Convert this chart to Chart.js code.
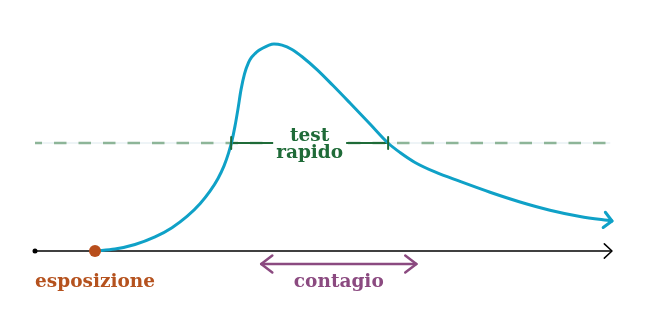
<!DOCTYPE html>
<html>
<head>
<meta charset="utf-8">
<script src="https://cdn.jsdelivr.net/npm/chart.js@4"></script>
<style>
  html, body { margin: 0; padding: 0; background: #fff; }
  #wrap { width: 650px; height: 320px; }
</style>
</head>
<body>
<div id="wrap"><canvas id="grafico"></canvas></div>
<script>
// tempo (0-100) e carica virale (0-100); soglia del test rapido a 50
const tempo  = [10.40, 13.86, 17.33, 20.80, 23.74, 26.34, 28.60, 30.33, 31.72, 32.76, 33.54, 34.14, 34.66, 35.18, 35.70, 36.31, 37.00, 37.52, 38.13, 38.82, 39.51, 40.38, 41.42, 42.81, 44.54, 46.45, 48.87, 51.65, 54.59, 58.06, 61.18, 63.26, 65.86, 69.32, 73.66, 78.86, 84.06, 89.25, 94.45, 100];
const carica = [0, 0.9, 3.0, 6.5, 10.8, 16.0, 21.9, 27.7, 33.6, 39.4, 45.3, 51.1, 57.8, 65.8, 74.6, 82.0, 87.2, 89.6, 91.4, 92.9, 94.0, 95.1, 95.8, 95.3, 93.3, 89.6, 84.0, 76.6, 68.5, 58.8, 50.0, 45.6, 41.0, 36.6, 32.2, 27.2, 22.7, 18.9, 16.0, 13.9];
const soglia = 50;
const esposizione = 10.4;
const finestraTest = [34.0, 61.2];
const finestraContagio = [39.2, 66.1];
const asseTempo = [0, 100];
const lineaSoglia = [0, 99.7];

const etichettaEsposizione = 'esposizione';
const etichettaTest = ['test', 'rapido'];
const etichettaContagio = 'contagio';

const FONT = 'bold 18.5px "DejaVu Serif"';

// disegna una punta di freccia aperta
function punta(ctx, x, y, ang, len, apertura) {
  ctx.beginPath();
  ctx.moveTo(x - len * Math.cos(ang - apertura), y - len * Math.sin(ang - apertura));
  ctx.lineTo(x, y);
  ctx.lineTo(x - len * Math.cos(ang + apertura), y - len * Math.sin(ang + apertura));
  ctx.stroke();
}

const annotazioni = {
  id: 'annotazioni',
  afterDatasetsDraw(chart) {
    const ctx = chart.ctx;
    const x = chart.scales.x, y = chart.scales.y;
    ctx.save();
    ctx.lineCap = 'round';
    ctx.lineJoin = 'round';

    // freccia dell'asse del tempo
    ctx.strokeStyle = '#000';
    ctx.lineWidth = 1.5;
    punta(ctx, x.getPixelForValue(asseTempo[1]), y.getPixelForValue(0), 0, 10.5, 0.75);

    // freccia alla fine della curva
    const n = tempo.length;
    const x1 = x.getPixelForValue(tempo[n - 2]), y1 = y.getPixelForValue(carica[n - 2]);
    const x2 = x.getPixelForValue(tempo[n - 1]), y2 = y.getPixelForValue(carica[n - 1]);
    ctx.strokeStyle = '#0fa1c7';
    ctx.lineWidth = 3;
    punta(ctx, x2, y2, Math.atan2(y2 - y1, x2 - x1), 11, 0.78);

    // finestra del test rapido: tacche e etichetta
    const ys = y.getPixelForValue(soglia);
    ctx.strokeStyle = '#1f6b38';
    ctx.lineWidth = 2;
    finestraTest.forEach(v => {
      const px = x.getPixelForValue(v);
      ctx.beginPath();
      ctx.moveTo(px, ys - 6);
      ctx.lineTo(px, ys + 6);
      ctx.stroke();
    });
    const xc = (x.getPixelForValue(finestraTest[0]) + x.getPixelForValue(finestraTest[1])) / 2;
    ctx.font = FONT;
    const larg = Math.max(...etichettaTest.map(t => ctx.measureText(t).width));
    ctx.fillStyle = '#fff';
    ctx.fillRect(xc - larg / 2 - 3, ys - 4, larg + 6, 8);
    ctx.fillStyle = '#1f6b38';
    ctx.textAlign = 'center';
    ctx.textBaseline = 'alphabetic';
    ctx.fillText(etichettaTest[0], xc, ys - 2);
    ctx.fillText(etichettaTest[1], xc, ys + 15);

    // freccia doppia del contagio
    const y0 = y.getPixelForValue(0);
    const ca = x.getPixelForValue(finestraContagio[0]);
    const cb = x.getPixelForValue(finestraContagio[1]);
    ctx.strokeStyle = '#8b4a80';
    ctx.lineWidth = 2.5;
    ctx.beginPath();
    ctx.moveTo(ca, y0 + 13);
    ctx.lineTo(cb, y0 + 13);
    ctx.stroke();
    punta(ctx, ca, y0 + 13, Math.PI, 14, 0.65);
    punta(ctx, cb, y0 + 13, 0, 14, 0.65);
    ctx.fillStyle = '#8b4a80';
    ctx.fillText(etichettaContagio, (ca + cb) / 2, y0 + 36);

    // etichetta esposizione
    ctx.fillStyle = '#b5521e';
    ctx.fillText(etichettaEsposizione, x.getPixelForValue(esposizione), y0 + 36);
    ctx.restore();
  }
};

new Chart(document.getElementById('grafico'), {
  type: 'line',
  data: {
    datasets: [
      {
        // punto di esposizione
        data: [{ x: esposizione, y: 0 }],
        pointRadius: 6,
        pointBackgroundColor: '#b84e1c',
        pointBorderWidth: 0,
        showLine: false,
        order: 0
      },
      {
        // carica virale
        data: tempo.map((t, i) => ({ x: t, y: carica[i] })),
        borderColor: '#0fa1c7',
        borderWidth: 3,
        cubicInterpolationMode: 'monotone',
        pointRadius: 0,
        borderCapStyle: 'round',
        order: 1
      },
      {
        // finestra del test
        data: finestraTest.map(t => ({ x: t, y: soglia })),
        borderColor: '#1f6b38',
        borderWidth: 2,
        pointRadius: 0,
        order: 2
      },
      {
        // asse del tempo
        data: asseTempo.map(t => ({ x: t, y: 0 })),
        borderColor: '#000',
        borderWidth: 1.5,
        pointRadius: [2.5, 0],
        pointBackgroundColor: '#000',
        pointBorderWidth: 0,
        order: 3
      },
      {
        // soglia tratteggiata
        data: lineaSoglia.map(t => ({ x: t, y: soglia })),
        borderColor: '#8db598',
        borderWidth: 2.5,
        borderDash: [12.5, 12],
        borderDashOffset: 5.5,
        pointRadius: 0,
        order: 4
      },
      {
        data: lineaSoglia.map(t => ({ x: t, y: soglia })),
        borderColor: '#dde9ee',
        borderWidth: 1,
        pointRadius: 0,
        order: 5
      }
    ]
  },
  options: {
    responsive: true,
    maintainAspectRatio: false,
    animation: false,
    devicePixelRatio: 1,
    clip: false,
    layout: { padding: { left: 35, right: 38, top: 35, bottom: 25.8 } },
    plugins: { legend: { display: false }, tooltip: { enabled: false } },
    scales: {
      x: { type: 'linear', min: 0, max: 100, display: false },
      y: { type: 'linear', min: -20, max: 100, display: false }
    }
  },
  plugins: [annotazioni]
});
</script>
</body>
</html>
